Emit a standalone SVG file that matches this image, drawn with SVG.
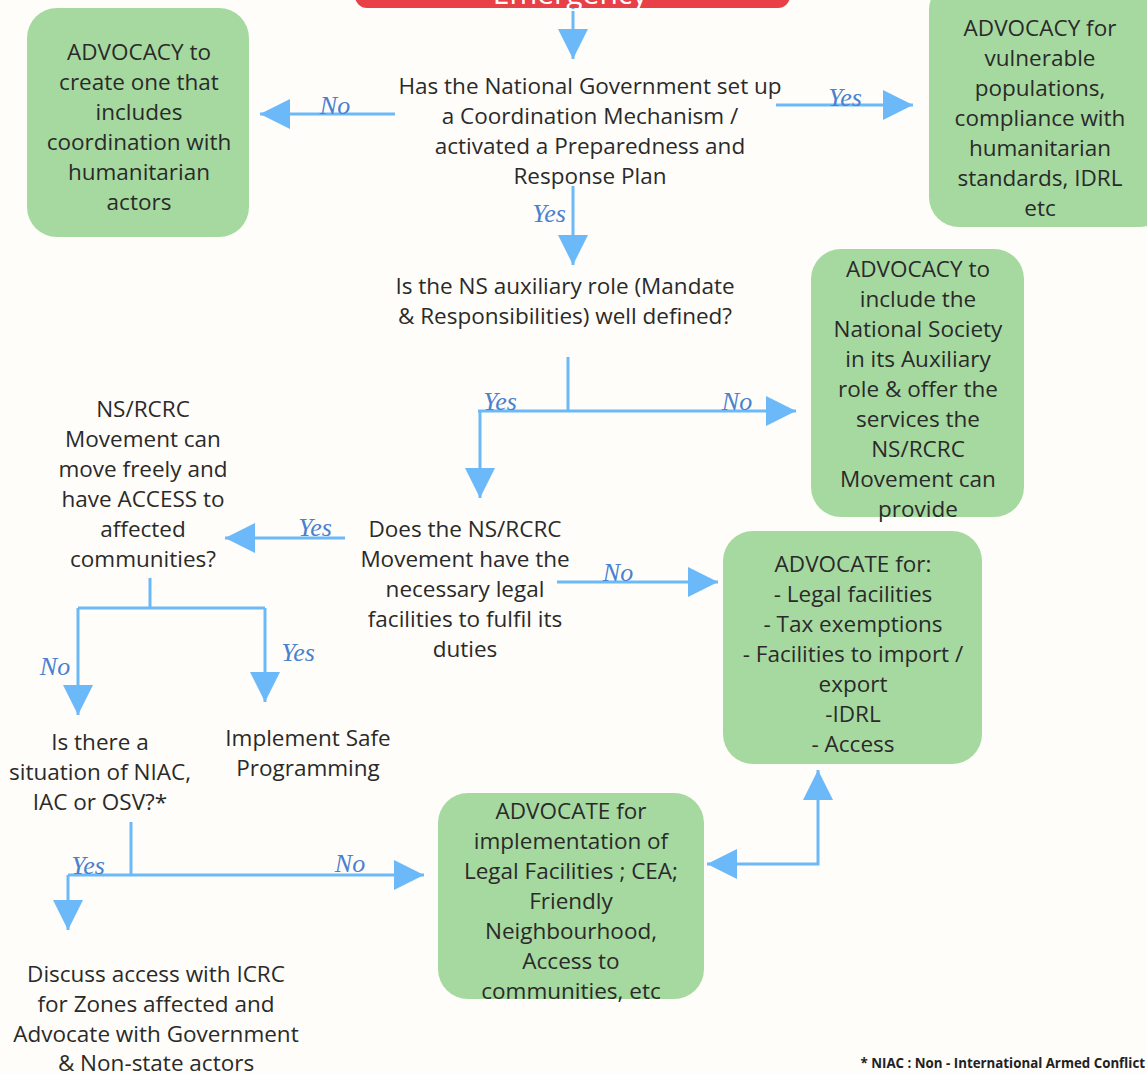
<svg xmlns="http://www.w3.org/2000/svg" width="1147" height="1074" viewBox="0 0 1147 1074">
<defs>
<style>
.bg{fill:#fefdf9}
.box{fill:#a6d9a0}
.t{font-family:"Open Sans","Noto Sans",sans-serif;font-size:22.5px;fill:#2a2a2a;text-anchor:middle}
.lbl{font-family:"Liberation Serif",serif;font-style:italic;font-size:26px;fill:#4a80d0;text-anchor:middle}
.c{fill:none;stroke:#6cb9f9;stroke-width:3}
.fn{font-family:"Open Sans","Noto Sans",sans-serif;font-size:13.3px;font-weight:bold;fill:#222;text-anchor:end}
</style>
<marker id="ah" viewBox="0 0 30 30" refX="30" refY="15" markerWidth="30" markerHeight="30" markerUnits="userSpaceOnUse" orient="auto-start-reverse">
<path d="M0,0 L30,15 L0,30 Z" fill="#6cb9f9"/>
</marker>
</defs>
<rect class="bg" x="0" y="0" width="1147" height="1074"/>

<g id="connectors">
<path class="c" d="M573,8 V59" marker-end="url(#ah)"/>
<path class="c" d="M395,114 H260" marker-end="url(#ah)"/>
<path class="c" d="M776,105 H913" marker-end="url(#ah)"/>
<path class="c" d="M573,186 V265" marker-end="url(#ah)"/>
<path class="c" d="M568,357 V411"/>
<path class="c" d="M478,411 H796" marker-end="url(#ah)"/>
<path class="c" d="M480,411 V498" marker-end="url(#ah)"/>
<path class="c" d="M345,538 H225" marker-end="url(#ah)"/>
<path class="c" d="M557,582 H718" marker-end="url(#ah)"/>
<path class="c" d="M150,578 V608"/>
<path class="c" d="M78,608 H265"/>
<path class="c" d="M78,608 V715" marker-end="url(#ah)"/>
<path class="c" d="M265,608 V702" marker-end="url(#ah)"/>
<path class="c" d="M131,822 V875"/>
<path class="c" d="M68,875 H424" marker-end="url(#ah)"/>
<path class="c" d="M68,875 V930" marker-end="url(#ah)"/>
<path class="c" d="M707,864 H818 V770" marker-start="url(#ah)" marker-end="url(#ah)"/>
<text class="lbl" x="335" y="114">No</text>
<text class="lbl" x="845" y="106">Yes</text>
<text class="lbl" x="549" y="222">Yes</text>
<text class="lbl" x="500" y="410">Yes</text>
<text class="lbl" x="737" y="410">No</text>
<text class="lbl" x="315" y="536">Yes</text>
<text class="lbl" x="618" y="581">No</text>
<text class="lbl" x="55" y="675">No</text>
<text class="lbl" x="298" y="661">Yes</text>
<text class="lbl" x="88" y="874">Yes</text>
<text class="lbl" x="350" y="872">No</text>
</g>

<g id="emergency">
<rect x="355" y="-40" width="435" height="48" rx="12" fill="#e84046"/>
<text x="570" y="4" font-family="Open Sans,sans-serif" font-size="30" fill="#fff" text-anchor="middle">Emergency</text>
</g>

<g id="advocacy-create">
<rect class="box" x="27" y="8" width="222" height="229" rx="30"/>
<text class="t" x="139" y="60">ADVOCACY to</text>
<text class="t" x="139" y="90">create one that</text>
<text class="t" x="139" y="120">includes</text>
<text class="t" x="139" y="150">coordination with</text>
<text class="t" x="139" y="180">humanitarian</text>
<text class="t" x="139" y="210">actors</text>
</g>

<g id="q-coordination">
<text class="t" x="590" y="94">Has the National Government set up</text>
<text class="t" x="590" y="124">a Coordination Mechanism /</text>
<text class="t" x="590" y="154">activated a Preparedness and</text>
<text class="t" x="590" y="184">Response Plan</text>
</g>

<g id="advocacy-vulnerable">
<rect class="box" x="929" y="-20" width="240" height="247" rx="30"/>
<text class="t" x="1040" y="36">ADVOCACY for</text>
<text class="t" x="1040" y="66">vulnerable</text>
<text class="t" x="1040" y="96">populations,</text>
<text class="t" x="1040" y="126">compliance with</text>
<text class="t" x="1040" y="156">humanitarian</text>
<text class="t" x="1040" y="186">standards, IDRL</text>
<text class="t" x="1040" y="216">etc</text>
</g>

<g id="q-auxiliary">
<text class="t" x="565" y="294">Is the NS auxiliary role (Mandate</text>
<text class="t" x="565" y="324">&amp; Responsibilities) well defined?</text>
</g>

<g id="advocacy-include">
<rect class="box" x="811" y="249" width="213" height="268" rx="30"/>
<text class="t" x="918" y="277">ADVOCACY to</text>
<text class="t" x="918" y="307">include the</text>
<text class="t" x="918" y="337">National Society</text>
<text class="t" x="918" y="367">in its Auxiliary</text>
<text class="t" x="918" y="397">role &amp; offer the</text>
<text class="t" x="918" y="427">services the</text>
<text class="t" x="918" y="457">NS/RCRC</text>
<text class="t" x="918" y="487">Movement can</text>
<text class="t" x="918" y="517">provide</text>
</g>

<g id="q-legal">
<text class="t" x="465" y="537">Does the NS/RCRC</text>
<text class="t" x="465" y="567">Movement have the</text>
<text class="t" x="465" y="597">necessary legal</text>
<text class="t" x="465" y="627">facilities to fulfil its</text>
<text class="t" x="465" y="657">duties</text>
</g>

<g id="advocate-for">
<rect class="box" x="723" y="531" width="259" height="233" rx="30"/>
<text class="t" x="853" y="572">ADVOCATE for:</text>
<text class="t" x="853" y="602">- Legal facilities</text>
<text class="t" x="853" y="632">- Tax exemptions</text>
<text class="t" x="853" y="662">- Facilities to import /</text>
<text class="t" x="853" y="692">export</text>
<text class="t" x="853" y="722">-IDRL</text>
<text class="t" x="853" y="752">- Access</text>
</g>

<g id="q-access">
<text class="t" x="143" y="417">NS/RCRC</text>
<text class="t" x="143" y="447">Movement can</text>
<text class="t" x="143" y="477">move freely and</text>
<text class="t" x="143" y="507">have ACCESS to</text>
<text class="t" x="143" y="537">affected</text>
<text class="t" x="143" y="567">communities?</text>
</g>

<g id="q-niac">
<text class="t" x="100" y="750">Is there a</text>
<text class="t" x="100" y="780">situation of NIAC,</text>
<text class="t" x="100" y="810">IAC or OSV?*</text>
</g>

<g id="safe-programming">
<text class="t" x="308" y="746">Implement Safe</text>
<text class="t" x="308" y="776">Programming</text>
</g>

<g id="advocate-implementation">
<rect class="box" x="438" y="793" width="266" height="206" rx="30"/>
<text class="t" x="571" y="819">ADVOCATE for</text>
<text class="t" x="571" y="849">implementation of</text>
<text class="t" x="571" y="879">Legal Facilities ; CEA;</text>
<text class="t" x="571" y="909">Friendly</text>
<text class="t" x="571" y="939">Neighbourhood,</text>
<text class="t" x="571" y="969">Access to</text>
<text class="t" x="571" y="999">communities, etc</text>
</g>

<g id="discuss-icrc">
<text class="t" x="156" y="982">Discuss access with ICRC</text>
<text class="t" x="156" y="1012">for Zones affected and</text>
<text class="t" x="156" y="1042">Advocate with Government</text>
<text class="t" x="156" y="1071">&amp; Non-state actors</text>
</g>

<g id="footnote">
<text class="fn" x="1145" y="1068">* NIAC : Non - International Armed Conflict</text>
</g>
</svg>
